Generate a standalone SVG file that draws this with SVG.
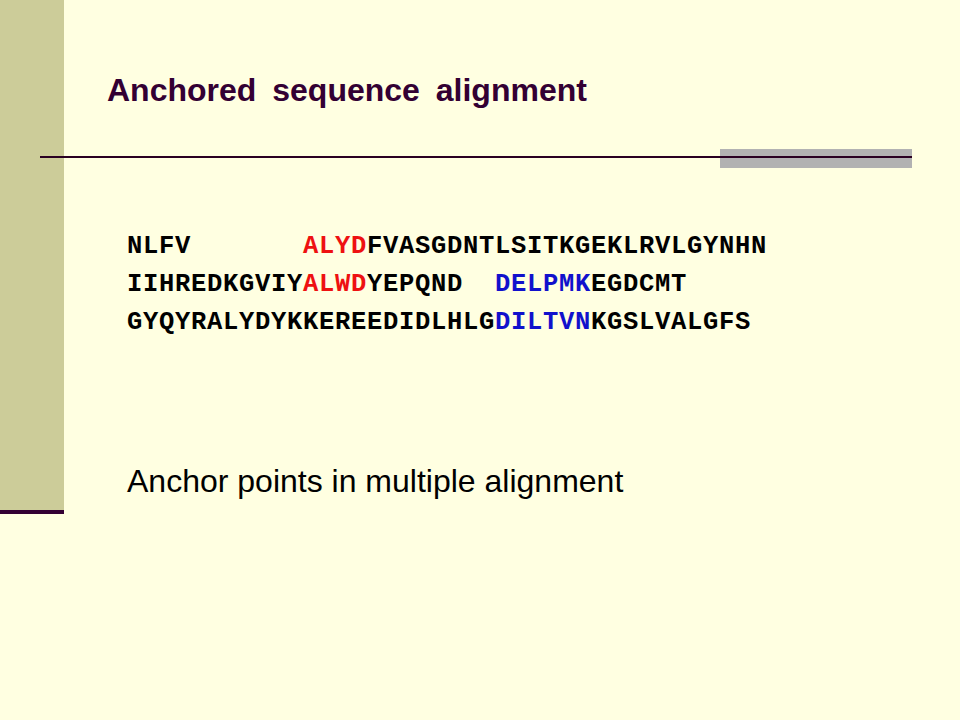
<svg xmlns="http://www.w3.org/2000/svg" width="960" height="720" viewBox="0 0 960 720">
  <style>
    .seq { font-family: "Liberation Mono", "Courier New", monospace; font-weight: bold; font-size: 25.5px; letter-spacing: 0.7px; fill: #000000; }
    .red { fill: #ee1111; }
    .blue { fill: #1111cc; }
    .title { font-family: "Liberation Sans", Arial, sans-serif; font-weight: bold; font-size: 32px; fill: #330033; }
    .body { font-family: "Liberation Sans", Arial, sans-serif; font-size: 32px; fill: #000000; }
  </style>
  <rect id="background" x="0" y="0" width="960" height="720" fill="#ffffe1"/>
  <g id="sidebar">
    <rect x="0" y="0" width="64" height="510" fill="#cccc99"/>
    <rect x="0" y="510" width="64" height="4" fill="#330033"/>
  </g>
  <g id="rule">
    <rect x="720" y="149" width="192" height="19" fill="#b2b2b2"/>
    <rect x="40" y="156" width="872" height="2" fill="#2a0022"/>
  </g>
  <g id="title">
    <text class="title" x="107" y="101" word-spacing="7">Anchored sequence alignment</text>
  </g>
  <g id="alignment">
    <text class="seq" y="253"><tspan x="127">NLFV</tspan><tspan class="red" x="303">ALYD</tspan><tspan x="367">FVASGDNTLSITKGEKLRVLGYNHN</tspan></text>
    <text class="seq" y="291"><tspan x="127">IIHREDKGVIY</tspan><tspan class="red" x="303">ALWD</tspan><tspan x="367">YEPQND</tspan><tspan class="blue" x="495">DELPMK</tspan><tspan x="591">EGDCMT</tspan></text>
    <text class="seq" y="329"><tspan x="127">GYQYRALYDYKKEREEDIDLHLG</tspan><tspan class="blue" x="495">DILTVN</tspan><tspan x="591">KGSLVALGFS</tspan></text>
  </g>
  <g id="caption">
    <text class="body" x="127" y="492">Anchor points in multiple alignment</text>
  </g>
</svg>
